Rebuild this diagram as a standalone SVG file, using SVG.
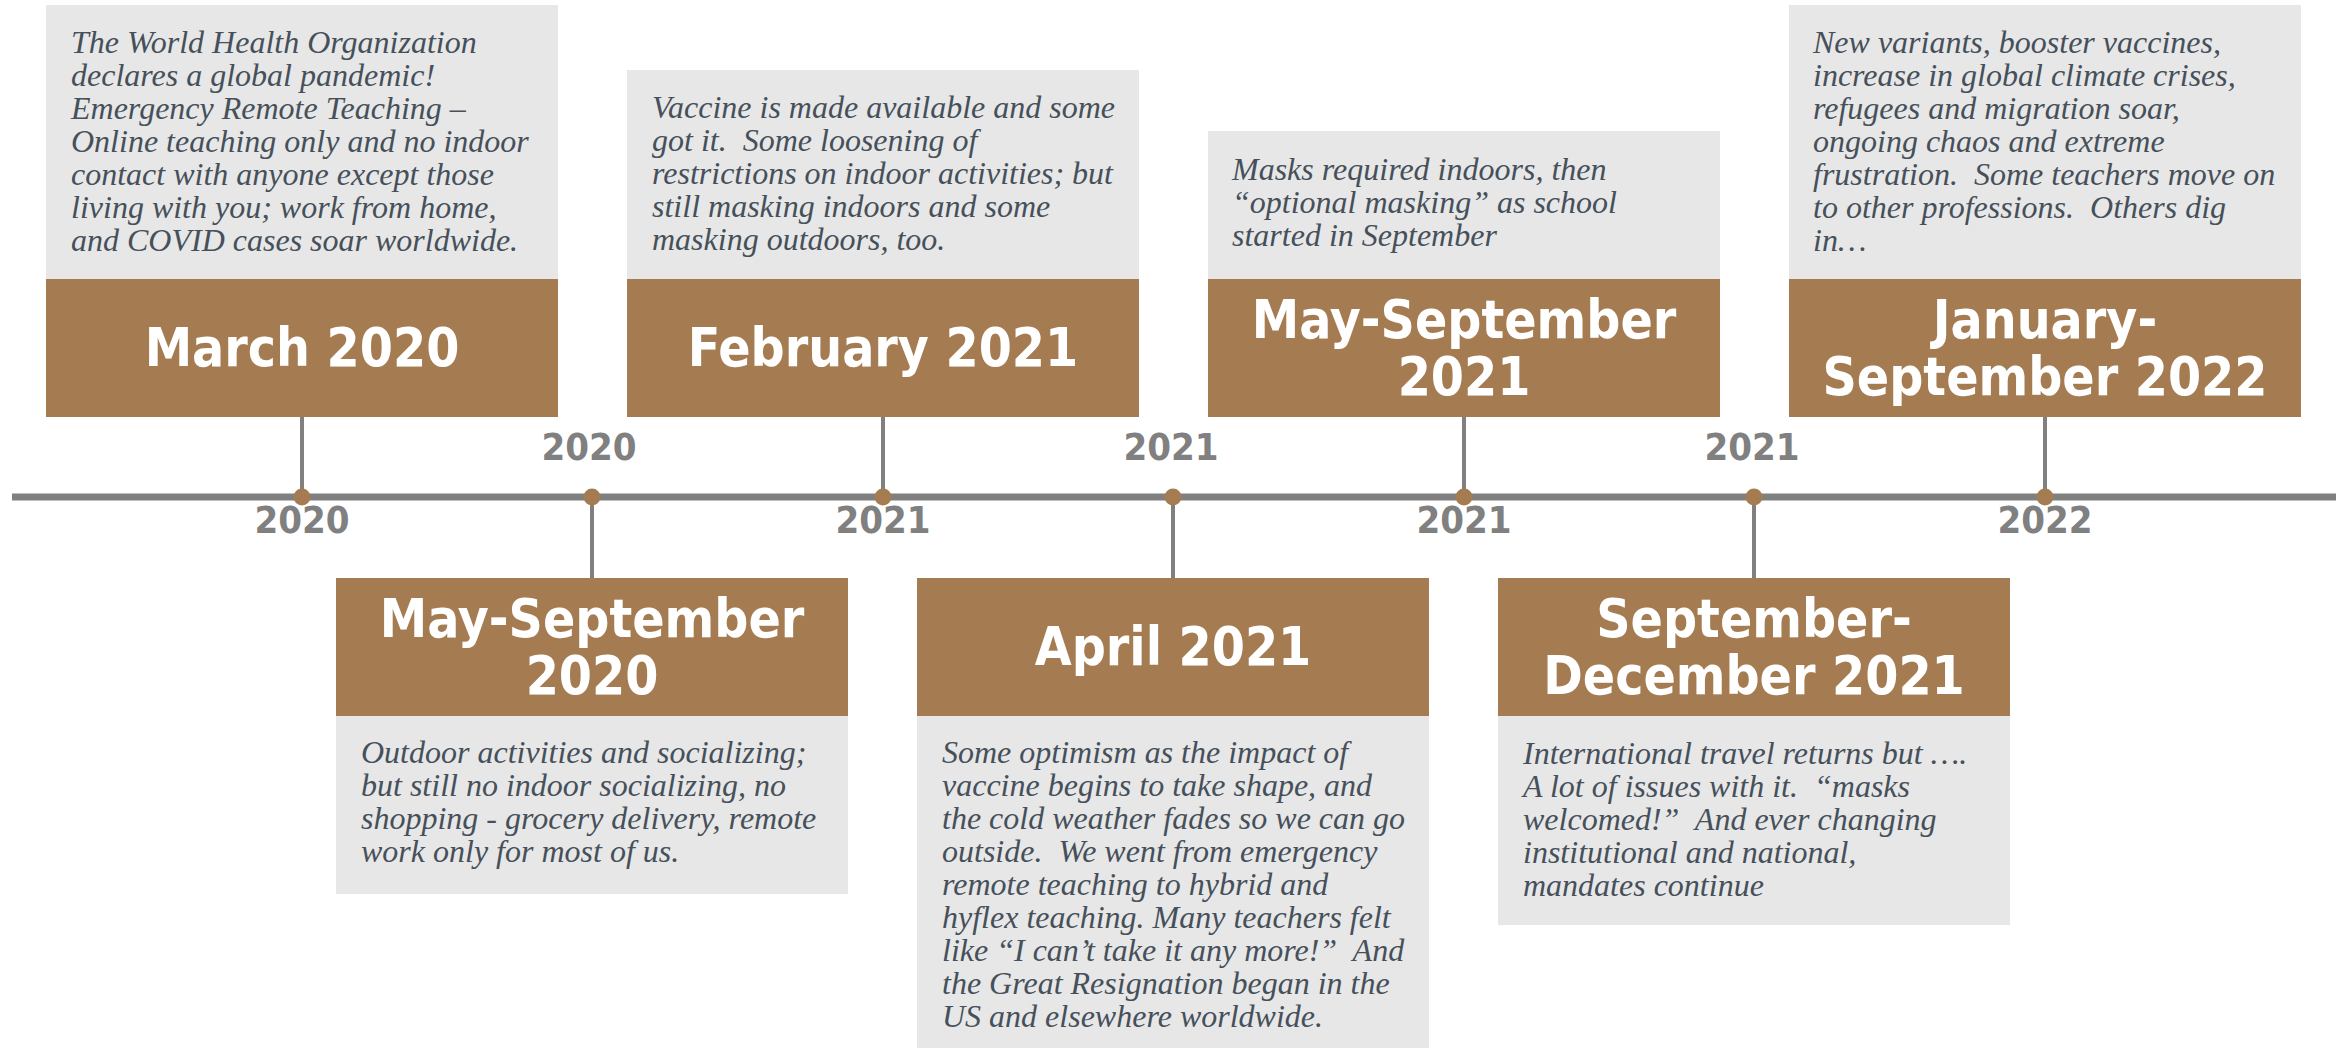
<svg xmlns="http://www.w3.org/2000/svg" width="2348" height="1050" viewBox="0 0 2348 1050">
<style>
.card{fill:#E7E7E7}
.head{fill:#A57C52}
.title{font-family:"DejaVu Sans Condensed","DejaVu Sans",sans-serif;font-stretch:condensed;font-weight:bold;font-size:53px;fill:#FFFFFF;text-anchor:middle}
.desc{font-family:"Liberation Serif",serif;font-style:italic;font-size:32px;fill:#46505A;white-space:pre}
.year{font-family:"DejaVu Sans Condensed","DejaVu Sans",sans-serif;font-stretch:condensed;font-weight:bold;font-size:38px;fill:#808080;text-anchor:middle}
.axis{stroke:#808080;stroke-width:7;fill:none}
.stem{stroke:#808080;stroke-width:4;fill:none}
.dot{fill:#A57C52}
</style>
<rect width="2348" height="1050" fill="#FFFFFF"/>
<g id="connectors">
<line class="axis" x1="12" y1="497" x2="2336" y2="497"/>
<line class="stem" x1="302" y1="417" x2="302" y2="497"/>
<line class="stem" x1="592" y1="497" x2="592" y2="578"/>
<line class="stem" x1="883" y1="417" x2="883" y2="497"/>
<line class="stem" x1="1173" y1="497" x2="1173" y2="578"/>
<line class="stem" x1="1464" y1="417" x2="1464" y2="497"/>
<line class="stem" x1="1754" y1="497" x2="1754" y2="578"/>
<line class="stem" x1="2045" y1="417" x2="2045" y2="497"/>
</g>
<g id="dots">
<circle class="dot" cx="302" cy="497" r="8.5"/>
<circle class="dot" cx="592" cy="497" r="8.5"/>
<circle class="dot" cx="883" cy="497" r="8.5"/>
<circle class="dot" cx="1173" cy="497" r="8.5"/>
<circle class="dot" cx="1464" cy="497" r="8.5"/>
<circle class="dot" cx="1754" cy="497" r="8.5"/>
<circle class="dot" cx="2045" cy="497" r="8.5"/>
</g>
<g id="years">
<text class="year" x="302" y="533">2020</text>
<text class="year" x="589" y="460">2020</text>
<text class="year" x="883" y="533">2021</text>
<text class="year" x="1171" y="460">2021</text>
<text class="year" x="1464" y="533">2021</text>
<text class="year" x="1752" y="460">2021</text>
<text class="year" x="2045" y="533">2022</text>
</g>
<g id="march-2020">
<rect class="card" x="46" y="5" width="512" height="274"/>
<rect class="head" x="46" y="279" width="512" height="138"/>
<text class="title" x="302" y="366">March 2020</text>
<text class="desc" x="71" y="53">The World Health Organization</text>
<text class="desc" x="71" y="86">declares a global pandemic!</text>
<text class="desc" x="71" y="119">Emergency Remote Teaching –</text>
<text class="desc" x="71" y="152">Online teaching only and no indoor</text>
<text class="desc" x="71" y="185">contact with anyone except those</text>
<text class="desc" x="71" y="218">living with you; work from home,</text>
<text class="desc" x="71" y="251">and COVID cases soar worldwide.</text>
</g>
<g id="may-september-2020">
<rect class="head" x="336" y="578" width="512" height="138"/>
<rect class="card" x="336" y="716" width="512" height="178"/>
<text class="title" x="592" y="637">May-September</text>
<text class="title" x="592" y="694">2020</text>
<text class="desc" x="361" y="763">Outdoor activities and socializing;</text>
<text class="desc" x="361" y="796">but still no indoor socializing, no</text>
<text class="desc" x="361" y="829">shopping - grocery delivery, remote</text>
<text class="desc" x="361" y="862">work only for most of us.</text>
</g>
<g id="february-2021">
<rect class="card" x="627" y="70" width="512" height="209"/>
<rect class="head" x="627" y="279" width="512" height="138"/>
<text class="title" x="883" y="366">February 2021</text>
<text class="desc" x="652" y="118">Vaccine is made available and some</text>
<text class="desc" x="652" y="151">got it.  Some loosening of</text>
<text class="desc" x="652" y="184">restrictions on indoor activities; but</text>
<text class="desc" x="652" y="217">still masking indoors and some</text>
<text class="desc" x="652" y="250">masking outdoors, too.</text>
</g>
<g id="april-2021">
<rect class="head" x="917" y="578" width="512" height="138"/>
<rect class="card" x="917" y="716" width="512" height="332"/>
<text class="title" x="1173" y="665">April 2021</text>
<text class="desc" x="942" y="763">Some optimism as the impact of</text>
<text class="desc" x="942" y="796">vaccine begins to take shape, and</text>
<text class="desc" x="942" y="829">the cold weather fades so we can go</text>
<text class="desc" x="942" y="862">outside.  We went from emergency</text>
<text class="desc" x="942" y="895">remote teaching to hybrid and</text>
<text class="desc" x="942" y="928">hyflex teaching. Many teachers felt</text>
<text class="desc" x="942" y="961">like “I can’t take it any more!”  And</text>
<text class="desc" x="942" y="994">the Great Resignation began in the</text>
<text class="desc" x="942" y="1027">US and elsewhere worldwide.</text>
</g>
<g id="may-september-2021">
<rect class="card" x="1208" y="131" width="512" height="148"/>
<rect class="head" x="1208" y="279" width="512" height="138"/>
<text class="title" x="1464" y="338">May-September</text>
<text class="title" x="1464" y="395">2021</text>
<text class="desc" x="1232" y="180">Masks required indoors, then</text>
<text class="desc" x="1232" y="213">“optional masking” as school</text>
<text class="desc" x="1232" y="246">started in September</text>
</g>
<g id="september-december-2021">
<rect class="head" x="1498" y="578" width="512" height="138"/>
<rect class="card" x="1498" y="716" width="512" height="209"/>
<text class="title" x="1754" y="637">September-</text>
<text class="title" x="1754" y="694">December 2021</text>
<text class="desc" x="1523" y="764">International travel returns but ….</text>
<text class="desc" x="1523" y="797">A lot of issues with it.  “masks</text>
<text class="desc" x="1523" y="830">welcomed!”  And ever changing</text>
<text class="desc" x="1523" y="863">institutional and national,</text>
<text class="desc" x="1523" y="896">mandates continue</text>
</g>
<g id="january-september-2022">
<rect class="card" x="1789" y="5" width="512" height="274"/>
<rect class="head" x="1789" y="279" width="512" height="138"/>
<text class="title" x="2045" y="338">January-</text>
<text class="title" x="2045" y="395">September 2022</text>
<text class="desc" x="1813" y="53">New variants, booster vaccines,</text>
<text class="desc" x="1813" y="86">increase in global climate crises,</text>
<text class="desc" x="1813" y="119">refugees and migration soar,</text>
<text class="desc" x="1813" y="152">ongoing chaos and extreme</text>
<text class="desc" x="1813" y="185">frustration.  Some teachers move on</text>
<text class="desc" x="1813" y="218">to other professions.  Others dig</text>
<text class="desc" x="1813" y="251">in…</text>
</g>
</svg>
